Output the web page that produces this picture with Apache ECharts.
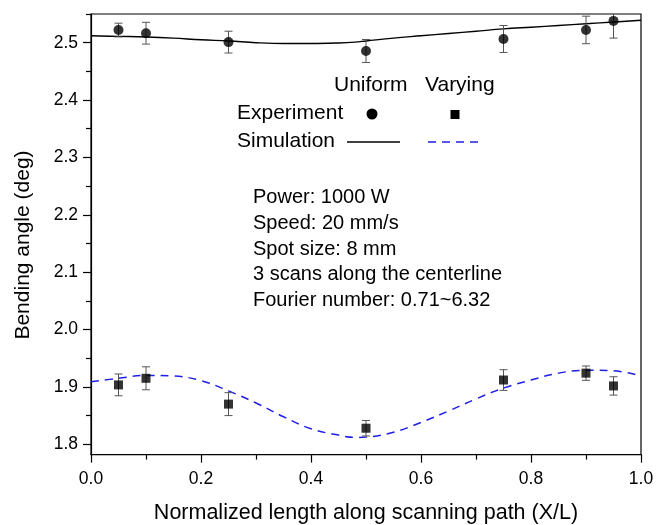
<!DOCTYPE html>
<html>
<head>
<meta charset="utf-8">
<script src="https://cdn.jsdelivr.net/npm/echarts@6/dist/echarts.min.js"></script>
<style>
html,body{margin:0;padding:0;background:#fff;}
#main{width:663px;height:525px;}
</style>
</head>
<body>
<div id="main"></div>
<script>
// ---- Data ----
const expX = [0.05, 0.1, 0.25, 0.5, 0.75, 0.9, 0.95];
const uniformExp = [2.522, 2.5165, 2.501, 2.4855, 2.5065, 2.5222, 2.538];
const uniformErr = [0.012, 0.019, 0.019, 0.020, 0.0235, 0.024, 0.030];
const varyingExp = [1.9035, 1.915, 1.870, 1.828, 1.912, 1.924, 1.9017];
const varyingErr = [0.019, 0.020, 0.020, 0.0135, 0.018, 0.0125, 0.016];

const simX = [0, 0.05, 0.1, 0.15, 0.2, 0.25, 0.3, 0.35, 0.4, 0.45, 0.48, 0.5, 0.55, 0.6, 0.65, 0.7, 0.75, 0.8, 0.85, 0.9, 0.95, 1.0];
const uniformSim = [2.512, 2.511, 2.510, 2.508, 2.505, 2.503, 2.500, 2.4985, 2.4985, 2.4995, 2.501, 2.503, 2.508, 2.512, 2.516, 2.520, 2.524, 2.527, 2.530, 2.533, 2.536, 2.539];
const varyingSim = [1.909, 1.915, 1.920, 1.919, 1.911, 1.893, 1.872, 1.848, 1.827, 1.816, 1.812, 1.8125, 1.821, 1.838, 1.858, 1.879, 1.898, 1.912, 1.924, 1.929, 1.928, 1.919];

const yTicks = [1.8, 1.9, 2.0, 2.1, 2.2, 2.3, 2.4, 2.5];
const yMinorTicks = [1.85, 1.95, 2.05, 2.15, 2.25, 2.35, 2.45, 2.55];
const yMin = 1.782, yMax = 2.55;

const xTitle = 'Normalized length along scanning path (X/L)';
const yTitle = 'Bending angle (deg)';
const legendCols = ['Uniform', 'Varying'];
const legendRows = ['Experiment', 'Simulation'];
const textLines = ['Power: 1000 W', 'Speed: 20 mm/s', 'Spot size: 8 mm', '3 scans along the centerline', 'Fourier number: 0.71~6.32'];

// ---- Build ----
const FONT = "'Liberation Sans', Arial, sans-serif";
const zip = (xs, ys) => xs.map((x, i) => [x, ys[i]]);
const zip3 = (xs, ys, es) => xs.map((x, i) => [x, ys[i], es[i]]);

function errRender(params, api) {
  const x = api.value(0), y = api.value(1), e = api.value(2);
  const hi = Math.min(y + e, yMax), lo = Math.max(y - e, yMin);
  const t = api.coord([x, hi]), b = api.coord([x, lo]);
  const hw = 4;
  const st = { stroke: '#555', lineWidth: 1 };
  const ch = [{ type: 'line', shape: { x1: t[0], y1: t[1], x2: b[0], y2: b[1] }, style: st }];
  if (y + e <= yMax) ch.push({ type: 'line', shape: { x1: t[0] - hw, y1: t[1], x2: t[0] + hw, y2: t[1] }, style: st });
  if (y - e >= yMin) ch.push({ type: 'line', shape: { x1: b[0] - hw, y1: b[1], x2: b[0] + hw, y2: b[1] }, style: st });
  return { type: 'group', children: ch };
}

const chart = echarts.init(document.getElementById('main'), null, { renderer: 'canvas' });
const lbl = { color: '#000', fontSize: 17.5, fontFamily: FONT };
const T = (s, size) => ({ text: s, fill: '#000', font: size + 'px ' + FONT });
chart.setOption({
  animation: false,
  backgroundColor: '#fff',
  grid: { left: 91, right: 22, top: 14, bottom: 70.4, show: true, borderColor: '#000', borderWidth: 1.2,
          backgroundColor: 'transparent', containLabel: false, outerBoundsMode: 'none' },
  xAxis: [{
    type: 'value', min: 0, max: 1, interval: 0.2,
    name: xTitle, nameLocation: 'middle', nameGap: 47,
    nameTextStyle: { color: '#000', fontSize: 21.5, fontFamily: FONT },
    axisLine: { show: true, lineStyle: { color: '#000', width: 1.2 } },
    axisTick: { show: true, length: 8, lineStyle: { color: '#000', width: 1.2 } },
    minorTick: { show: true, splitNumber: 2, length: 5, lineStyle: { color: '#000', width: 1.2 } },
    axisLabel: Object.assign({ margin: 16, formatter: v => v.toFixed(1) }, lbl),
    splitLine: { show: false }
  }],
  yAxis: [{
    type: 'value', min: yMin, max: yMax,
    axisLine: { show: true, lineStyle: { color: '#000', width: 1.2 } },
    axisTick: { show: true, length: 8, customValues: yTicks, lineStyle: { color: '#000', width: 1.2 } },
    axisLabel: Object.assign({ margin: 13, customValues: yTicks, formatter: v => v.toFixed(1) }, lbl),
    splitLine: { show: false }
  }, {
    type: 'value', min: yMin, max: yMax, position: 'left',
    axisLine: { show: false },
    axisTick: { show: true, length: 5, customValues: yMinorTicks.filter(v => v <= yMax), lineStyle: { color: '#000', width: 1.2 } },
    axisLabel: { show: false, customValues: yMinorTicks.filter(v => v <= yMax) },
    splitLine: { show: false }
  }],
  series: [
    { type: 'line', data: zip(simX, uniformSim), smooth: 0.4, showSymbol: false, symbol: 'none',
      lineStyle: { color: '#000', width: 1.4 }, z: 2 },
    { type: 'line', data: zip(simX, varyingSim), smooth: 0.4, showSymbol: false, symbol: 'none',
      lineStyle: { color: '#1f1fe6', width: 1.5, type: [8, 6] }, z: 2 },
    { type: 'custom', renderItem: errRender, data: zip3(expX, uniformExp, uniformErr), z: 3 },
    { type: 'custom', renderItem: errRender, data: zip3(expX, varyingExp, varyingErr), z: 3 },
    { type: 'scatter', data: zip(expX, uniformExp), symbol: 'circle', symbolSize: 10,
      itemStyle: { color: '#000' }, z: 4 },
    { type: 'scatter', data: zip(expX, varyingExp), symbol: 'rect', symbolSize: 9,
      itemStyle: { color: '#000' }, z: 4 }
  ],
  graphic: [
    { type: 'text', x: 23, y: 245, rotation: Math.PI / 2,
      style: Object.assign(T(yTitle, 21), { textAlign: 'center', textVerticalAlign: 'middle' }) },
    { type: 'text', left: 334, top: 75, style: T(legendCols[0], 21) },
    { type: 'text', left: 425, top: 75, style: T(legendCols[1], 21) },
    { type: 'text', left: 237, top: 103, style: T(legendRows[0], 21) },
    { type: 'circle', shape: { cx: 372, cy: 114, r: 5.5 }, style: { fill: '#000' } },
    { type: 'rect', shape: { x: 450.5, y: 110, width: 9, height: 9 }, style: { fill: '#000' } },
    { type: 'text', left: 237, top: 131, style: T(legendRows[1], 21) },
    { type: 'line', shape: { x1: 347, y1: 142, x2: 400, y2: 142 }, style: { stroke: '#000', lineWidth: 1.5 } },
    { type: 'line', shape: { x1: 428, y1: 142, x2: 482, y2: 142 }, style: { stroke: '#1f1fe6', lineWidth: 1.5, lineDash: [8, 6] } },
    { type: 'text', left: 253, top: 185, style: Object.assign(T(textLines.join('\n'), 20), { lineHeight: 25.6 }) }
  ]
});
</script>
</body>
</html>
